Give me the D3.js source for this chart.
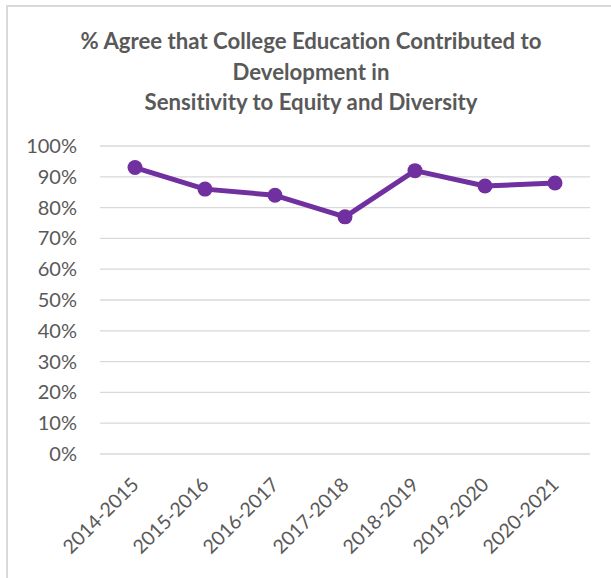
<!DOCTYPE html>
<html>
<head>
<meta charset="utf-8">
<script src="https://cdn.jsdelivr.net/npm/d3@7"></script>
<style>
  html, body { margin: 0; padding: 0; background: #fff; }
  svg { display: block; }
  text { font-variant-ligatures: none; }
</style>
</head>
<body>
<svg id="chart" width="611" height="578"></svg>
<script>
// Survey years and share of respondents who agreed (%)
const years = ["2014-2015", "2015-2016", "2016-2017", "2017-2018", "2018-2019", "2019-2020", "2020-2021"];
const agreePct = [93, 86, 84, 77, 92, 87, 88];
const yTicks = [0, 10, 20, 30, 40, 50, 60, 70, 80, 90, 100];
const titleLines = [
  "% Agree that College Education Contributed to",
  "Development in",
  "Sensitivity to Equity and Diversity"
];

const svg = d3.select("#chart");
const W = 611, H = 578;
const textColor = "#595959";
const lineColor = "#7030A0";
const font = "Lato, 'Open Sans', sans-serif";

// chart area frame
svg.append("path")
  .attr("d", `M7,${H} L7,6 L${W},6`)
  .attr("fill", "none")
  .attr("stroke", "#d9d9d9")
  .attr("stroke-width", 2);

// title
svg.append("g").selectAll("text")
  .data(titleLines)
  .join("text")
  .attr("x", 311)
  .attr("y", (d, i) => 49 + i * 30.5)
  .attr("text-anchor", "middle")
  .attr("font-family", font)
  .attr("font-weight", "bold")
  .attr("font-size", 22.2)
  .attr("fill", textColor)
  .text(d => d);

const plot = { left: 100, right: 590, top: 146, bottom: 454 };

const x = d3.scaleBand().domain(years).range([plot.left, plot.right]).padding(0);
const y = d3.scaleLinear().domain([0, 100]).range([plot.bottom, plot.top]);

// horizontal gridlines
svg.append("g").selectAll("line")
  .data(yTicks)
  .join("line")
  .attr("x1", plot.left).attr("x2", plot.right)
  .attr("y1", d => y(d)).attr("y2", d => y(d))
  .attr("stroke", "#d9d9d9")
  .attr("stroke-width", 1.3);

// y axis labels
const yAxis = d3.axisLeft(y).tickValues(yTicks).tickFormat(d => d + "%").tickSize(0).tickPadding(0);
const gy = svg.append("g").attr("transform", "translate(77,0)").call(yAxis);
gy.select(".domain").remove();
gy.selectAll("text")
  .attr("font-family", font)
  .attr("font-size", 20)
  .attr("fill", textColor);

// x axis labels, rotated
const xAxis = d3.axisBottom(x).tickSize(0).tickPadding(0);
const gx = svg.append("g").attr("transform", `translate(0,${plot.bottom})`).call(xAxis);
gx.select(".domain").remove();
gx.selectAll("text")
  .attr("font-family", font)
  .attr("font-size", 19.5)
  .attr("fill", textColor)
  .attr("text-anchor", "end")
  .attr("dy", null)
  .attr("y", 0)
  .attr("transform", "translate(5,32) rotate(-45)");

// data line
const cx = d => x(d) + x.bandwidth() / 2;
const line = d3.line()
  .x((d, i) => cx(years[i]))
  .y(d => y(d));

svg.append("path")
  .datum(agreePct)
  .attr("d", line)
  .attr("fill", "none")
  .attr("stroke", lineColor)
  .attr("stroke-width", 5)
  .attr("stroke-linejoin", "round");

svg.append("g").selectAll("circle")
  .data(agreePct)
  .join("circle")
  .attr("cx", (d, i) => cx(years[i]))
  .attr("cy", d => y(d))
  .attr("r", 7.5)
  .attr("fill", lineColor);
</script>
</body>
</html>
